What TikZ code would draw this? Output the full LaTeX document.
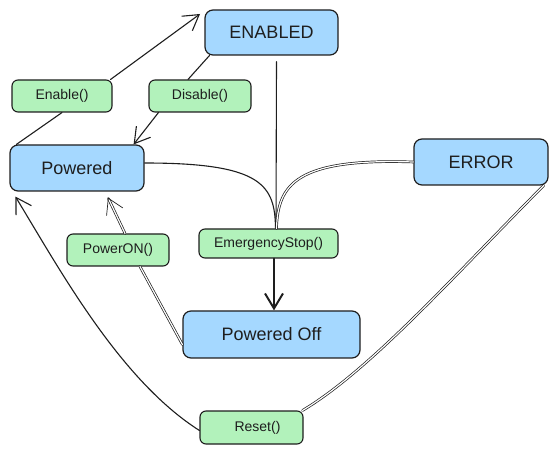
\documentclass[tikz,border=0pt]{standalone}
\usepackage{fontspec}
\setmainfont{Liberation Sans}
\usetikzlibrary{arrows.meta}
\definecolor{ink}{HTML}{1E1E1E}
\definecolor{stateblue}{HTML}{A5D8FF}
\definecolor{callgreen}{HTML}{B2F2BB}
\begin{document}
\begin{tikzpicture}[x=1pt, y=-1pt, >={Straight Barb[length=15pt,width=18pt]}, line join=round, line cap=round,
	state/.style={draw=ink, fill=stateblue, line width=1.2pt, rounded corners=8pt, text=ink, font=\fontsize{18}{20}\selectfont},
	call/.style={draw=ink, fill=callgreen, line width=1.1pt, rounded corners=6pt, text=ink, font=\fontsize{14}{16}\selectfont},
	link/.style={draw=ink, line width=1.1pt},
	twin/.style={draw=ink, double=white, double distance=1.2pt, line width=0.7pt}]
			\useasboundingbox (0,0) rectangle (557,454);
			% states
			\node[state, minimum width=133, minimum height=45] (enabled) at (271.5,32.5) {ENABLED};
			\node[state, minimum width=134, minimum height=46] (powered) at (77,168) {Powered};
			\node[state, minimum width=134, minimum height=46] (error) at (481,162) {ERROR};
			\node[state, minimum width=177, minimum height=47] (poweroff) at (271.5,334.5) {Powered Off};
			% transitions
			\node[call, minimum width=100, minimum height=32] (enable) at (62,96) {Enable()};
			\node[call, minimum width=102, minimum height=32] (disable) at (200,96) {Disable()};
			\node[call, minimum width=102, minimum height=32] (poweron) at (118,250) {PowerON()};
			\node[call, minimum width=139, minimum height=29] (estop) at (268.5,243.5) {EmergencyStop()};
			\node[call, minimum width=103, minimum height=33] (reset) at (251.5,427.5) {\hspace{12pt}Reset()};
			\coordinate (enTip) at (200,14);
			\draw[link] ([xshift=7pt]powered.north west)--(enable.south);
			\draw[link,->] ([xshift=-2pt]enable.north east)--(enTip);
			\draw[link] ([xshift=5pt]enabled.south west)--([xshift=-12pt]disable.north);
			\draw[link,->] ([xshift=10pt]disable.south west)--([xshift=-11pt]powered.north east);
			\draw[link] ([xshift=5pt,yshift=-6pt]enabled.south)--([xshift=7.5pt]estop.north);
			\draw[link] ([yshift=5pt]powered.east) .. controls (262,163) and (275,185) .. ([xshift=7pt]estop.north);
			\draw[twin] (error.west) .. controls (295,158) and (278,185) .. ([xshift=8pt]estop.north);
			\draw[link,line width=2pt,->] ([xshift=5.5pt]estop.south)--([xshift=2.5pt]poweroff.north);
			\draw[twin] ([yshift=-10pt]poweroff.west)--([xshift=22pt]poweron.south);
			\draw[twin,->] ([xshift=7pt]poweron.north)--([xshift=31pt,yshift=-6pt]powered.south);
			\draw[twin] ([xshift=-5pt]error.south east) .. controls (450,280) and (370,370) .. ([xshift=-1pt]reset.north east);
			\draw[link,->] ([yshift=-3pt]reset.west) .. controls (120,380) and (60,270) .. ([xshift=6pt,yshift=-5pt]powered.south west);
\end{tikzpicture}
\end{document}
